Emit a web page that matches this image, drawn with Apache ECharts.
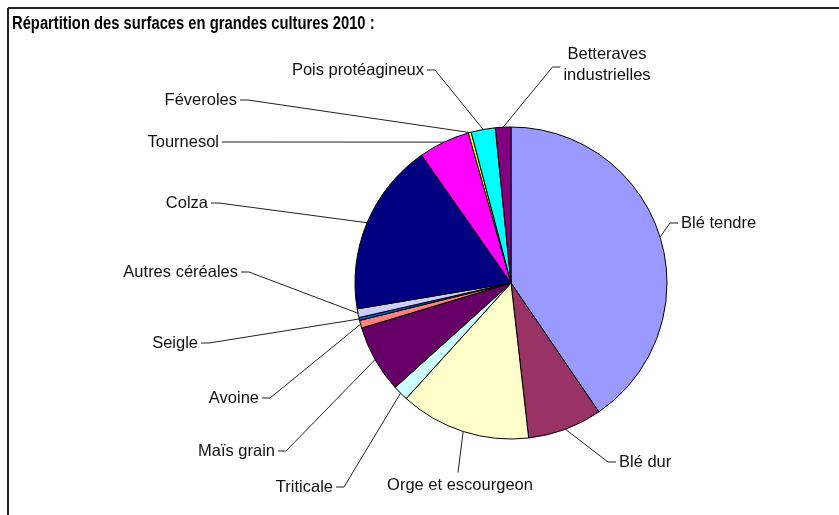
<!DOCTYPE html>
<html>
<head>
<meta charset="utf-8">
<script src="https://cdn.jsdelivr.net/npm/echarts@6/dist/echarts.min.js"></script>
<style>
html,body{margin:0;padding:0;background:#fff;}
#chart{width:839px;height:515px;}
</style>
</head>
<body>
<div id="chart"></div>
<script>
// ---- data ----
const categories = ['Blé tendre','Blé dur','Orge et escourgeon','Triticale','Maïs grain','Avoine','Seigle','Autres céréales','Colza','Tournesol','Féveroles','Pois protéagineux','Betteraves industrielles'];
const shares = [40.4, 7.7, 13.5, 1.6, 7.0, 0.8, 0.3, 0.9, 17.9, 5.3, 0.3, 2.5, 1.6];
const titleText = 'Répartition des surfaces en grandes cultures 2010 :';

// ---- styles / layout ----
const colors = ['#9999FF','#993366','#FFFFCC','#CCFFFF','#660066','#FF8080','#0066CC','#CCCCFF','#000080','#FF00FF','#FFFF00','#00FFFF','#800080'];
const CX = 511, CY = 283, R = 156;
const FONT = '"Liberation Sans", Arial, sans-serif';
// label anchor: x,y ; align ; side where leader attaches
const labelPlace = [
  {x:681, y:223, align:'left',   side:'left'},
  {x:619, y:462, align:'left',   side:'left'},
  {x:460, y:485, align:'center', side:'top'},
  {x:333, y:487, align:'right',  side:'right'},
  {x:275, y:451, align:'right',  side:'right'},
  {x:259, y:398, align:'right',  side:'right'},
  {x:198, y:343, align:'right',  side:'right'},
  {x:238, y:272, align:'right',  side:'right'},
  {x:208, y:203, align:'right',  side:'right'},
  {x:219, y:142, align:'right',  side:'right'},
  {x:237, y:100, align:'right',  side:'right'},
  {x:424, y:70,  align:'right',  side:'right'},
  {x:607, y:65,  align:'center', side:'left'}
];

const total = shares.reduce((a,b)=>a+b,0);
function midAngle(i){
  let cum = 0;
  for (let k=0;k<i;k++) cum += shares[k];
  return (cum + shares[i]/2) / total * 2 * Math.PI;
}

const chart = echarts.init(document.getElementById('chart'), null, {renderer:'canvas'});
chart.setOption({
  backgroundColor:'#fff',
  animation:false,
  graphic:[
    {type:'line', shape:{x1:8, y1:8, x2:839, y2:8}, style:{stroke:'#222', lineWidth:2}, silent:true},
    {type:'line', shape:{x1:8, y1:8, x2:8, y2:515}, style:{stroke:'#222', lineWidth:2}, silent:true},
    {type:'text', x:12, y:15, scaleX:0.82, style:{text:titleText, font:'bold 18px ' + FONT, fill:'#000'}, silent:true}
  ],
  series:[{
    type:'pie',
    center:[CX, CY],
    radius:R,
    startAngle:90,
    clockwise:true,
    avoidLabelOverlap:false,
    silent:true,
    data: categories.map((c,i)=>({name:c, value:shares[i], itemStyle:{color:colors[i]}})),
    itemStyle:{borderColor:'#000', borderWidth:1},
    label:{
      show:true,
      color:'#111',
      fontFamily:FONT,
      fontSize:16.5,
      lineHeight:21,
      formatter: p => p.name === 'Betteraves industrielles' ? 'Betteraves\nindustrielles' : p.name
    },
    labelLine:{show:true, lineStyle:{color:'#222', width:1}},
    labelLayout: function(params){
      const i = params.dataIndex;
      const lp = labelPlace[i];
      const w = params.labelRect.width, h = params.labelRect.height;
      const left = lp.align === 'left' ? lp.x : (lp.align === 'right' ? lp.x - w : lp.x - w/2);
      const a = midAngle(i);
      const start = [CX + R*Math.sin(a), CY - R*Math.cos(a)];
      let end, bend;
      if (lp.side === 'left') { end = [left - 3, lp.y + (h > 25 ? 2 : 0)]; bend = [end[0] - 8, end[1]]; }
      else if (lp.side === 'right') { end = [left + w + 3, lp.y]; bend = [end[0] + 8, end[1]]; }
      else { end = [lp.x - 2, lp.y - h/2 - 2]; bend = [end[0], end[1]]; }
      return {
        x: lp.x, y: lp.y, align: lp.align, verticalAlign:'middle',
        labelLinePoints:[start, bend, end]
      };
    }
  }]
});
</script>
</body>
</html>
